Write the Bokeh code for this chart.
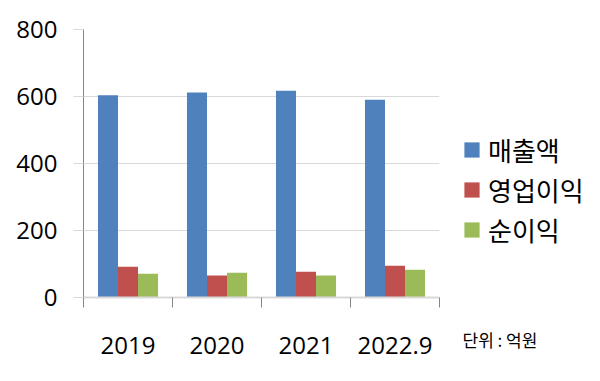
from bokeh.plotting import figure
from bokeh.models import (ColumnDataSource, Range1d, FixedTicker, Legend, LegendItem,
                          Label)
from bokeh.layouts import row
from bokeh.transform import dodge
from bokeh.embed import file_html
from bokeh.resources import INLINE

years = ["2019", "2020", "2021", "2022.9"]
sales = [604, 612, 617, 590]
op_profit = [92, 66, 77, 95]
net_profit = [71, 74, 66, 83]
series_names = ["매출액", "영업이익", "순이익"]
colors = ["#4F81BD", "#C0504D", "#9BBB59"]

H = 373
xpos = [i + 0.5 for i in range(len(years))]
src = ColumnDataSource(dict(x=xpos, sales=sales, op=op_profit, net=net_profit))

p = figure(width=445, height=H, output_backend="svg", toolbar_location=None,
           x_range=Range1d(0, len(years)), y_range=Range1d(0, 800),
           min_border_left=83, min_border_right=6, min_border_top=29,
           min_border_bottom=76)
p.outline_line_color = None
p.background_fill_color = "white"
p.border_fill_color = "white"
p.frame_align = False

bw = 0.225
r1 = p.vbar(x=dodge("x", -bw, range=p.x_range), top="sales", width=bw, source=src,
            color=colors[0], line_color=None)
r2 = p.vbar(x=dodge("x", 0, range=p.x_range), top="op", width=bw, source=src,
            color=colors[1], line_color=None)
r3 = p.vbar(x=dodge("x", bw, range=p.x_range), top="net", width=bw, source=src,
            color=colors[2], line_color=None)

# x axis
xa = p.xaxis[0]
xa.ticker = FixedTicker(ticks=xpos, minor_ticks=list(range(len(years) + 1)))
xa.major_label_overrides = {x: y for x, y in zip(xpos, years)}
xa.major_tick_line_color = None
xa.major_tick_out = 0
xa.major_tick_in = 0
xa.minor_tick_line_color = "#868686"
xa.minor_tick_out = 10
xa.minor_tick_in = 0
xa.axis_line_color = "#d9d9d9"
xa.axis_line_width = 2
xa.major_label_standoff = 29
xa.major_label_text_font = "Open Sans"
xa.major_label_text_font_size = "24px"
xa.major_label_text_color = "#000000"

# y axis
ya = p.yaxis[0]
ya.ticker = FixedTicker(ticks=[0, 200, 400, 600, 800], minor_ticks=[])
ya.axis_line_color = "#868686"
ya.major_tick_line_color = "#d9d9d9"
ya.major_tick_out = 10
ya.major_tick_in = 0
ya.minor_tick_line_color = None
ya.major_label_standoff = 16
ya.major_label_text_font = "Open Sans"
ya.major_label_text_font_size = "24px"
ya.major_label_text_color = "#000000"

p.xgrid.grid_line_color = None
p.ygrid.grid_line_color = "#d9d9d9"
p.ygrid.ticker = FixedTicker(ticks=[200, 400, 600, 800])

# side panel for legend and unit note
W2 = 147
p2 = figure(width=W2, height=H, output_backend="svg", toolbar_location=None,
            x_range=Range1d(0, W2), y_range=Range1d(0, H),
            min_border=0, min_border_left=0, min_border_right=0,
            min_border_top=0, min_border_bottom=0)
p2.axis.visible = False
p2.grid.grid_line_color = None
p2.outline_line_color = None
p2.frame_align = False
# legend swatches only (placed outside the visible range)
dummy = ColumnDataSource(dict(x=[-100], top=[-100]))
dummies = [p2.vbar(x="x", top="top", width=1, source=dummy, color=c, line_color=None)
           for c in colors]

legend = Legend(items=[LegendItem(label=n, renderers=[r]) for n, r in zip(series_names, dummies)],
                location=(17, 124), orientation="vertical",
                glyph_width=19, glyph_height=19, label_standoff=7,
                label_text_font="Noto Sans CJK KR", label_text_font_size="26px",
                label_text_color="#000000", label_height=40, spacing=0,
                padding=0, margin=0, border_line_color=None,
                background_fill_alpha=0)
p2.add_layout(legend, "center")

unit = Label(x=17, y=34, text="단위 : 억원",
             text_font="Noto Sans CJK KR", text_font_size="17px", text_color="#000000",
             text_baseline="middle")
p2.add_layout(unit)

layout = row(p, p2, spacing=0)
open("out.html", "w").write(file_html(layout, INLINE))
